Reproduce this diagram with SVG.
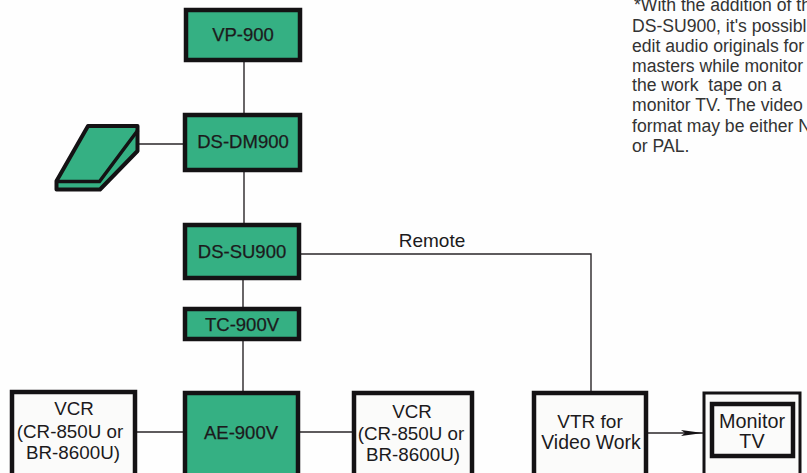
<svg xmlns="http://www.w3.org/2000/svg" width="807" height="473" viewBox="0 0 807 473">
<style>
text{font-family:"Liberation Sans",Arial,sans-serif;fill:#1c1a1c;text-anchor:middle}
.g{fill:#35b083;stroke:#141214;stroke-width:4.5}
.w{fill:#fbfbfa;stroke:#141214;stroke-width:4.5}
.l{font-size:18.5px;stroke:#1c1a1c;stroke-width:.25}
.v{font-size:18.8px}
.n{font-size:17.6px;text-anchor:start;fill:#333}
.c{fill:none;stroke:#2a2628;stroke-width:1.4}
</style>
<defs><marker id="a" markerWidth="24" markerHeight="8" refX="22" refY="4" orient="auto" markerUnits="userSpaceOnUse"><path d="M0 1L22 4L0 7L4 4Z" fill="#141214"/></marker></defs>
<rect width="807" height="473" fill="#fefefe"/>
<g id="connectors">
<path class="c" d="M244 62V113M244 172V223M243 280V307M243 341V391M137 432H183M300 432H352M139 144H183M301 254H591V391"/>
<path class="c" d="M648 433H703" marker-end="url(#a)"/>
</g>
<g id="vp900"><rect class="g" x="186" y="10" width="114" height="50"/><text class="l" x="243" y="41">VP-900</text></g>
<g id="dsdm900"><rect class="g" x="185" y="115" width="115" height="55"/><text class="l" x="243" y="148">DS-DM900</text></g>
<g id="pedal">
<path d="M88 126H137.500V151L100 189.500H56.500V181Z" fill="#35b083" stroke="#141214" stroke-width="4" stroke-linejoin="round"/>
<path d="M56 181.500H99.500L138 130" fill="none" stroke="#141214" stroke-width="3.500"/>
</g>
<g id="dssu900"><rect class="g" x="185" y="225" width="114" height="53"/><text class="l" x="242" y="258">DS-SU900</text></g>
<g id="tc900v"><rect class="g" x="185" y="309" width="114" height="30"/><text class="l" x="242" y="331">TC-900V</text></g>
<g id="ae900v"><rect class="g" x="185" y="393" width="113" height="84"/><text class="l" x="241" y="439">AE-900V</text></g>
<g id="vcr-left"><rect class="w" x="12" y="392" width="123" height="85"/><text class="v" x="74" y="415">VCR</text><text class="v" x="70" y="438">(CR-850U or</text><text class="v" x="73" y="459">BR-8600U)</text></g>
<g id="vcr-right"><rect class="w" x="354" y="393" width="118" height="84"/><text class="v" x="412" y="418">VCR</text><text class="v" x="411" y="440">(CR-850U or</text><text class="v" x="413" y="461">BR-8600U)</text></g>
<g id="vtr"><rect class="w" x="534" y="393" width="112" height="84"/><text x="590" y="428" style="font-size:19px">VTR for</text><text x="591" y="449" style="font-size:19.400px">Video Work</text></g>
<g id="monitor"><rect x="704" y="393" width="96" height="84" fill="#fbfbfa" stroke="#141214" stroke-width="3"/><rect x="712" y="404" width="81" height="52" fill="#fbfbfa" stroke="#141214" stroke-width="4.5"/><text x="752" y="428" style="font-size:19.800px">Monitor</text><text x="752" y="448" style="font-size:19.800px">TV</text></g>
<text x="432" y="247" font-size="19">Remote</text>
<g id="note">
<text class="n" x="634" y="11">*With the addition of th</text>
<text class="n" x="632" y="32">DS-SU900, it's possibl</text>
<text class="n" x="632" y="52">edit audio originals for</text>
<text class="n" x="632" y="72">masters while monitor</text>
<text class="n" x="632" y="91" xml:space="preserve">the work  tape on a</text>
<text class="n" x="632" y="111">monitor TV. The video</text>
<text class="n" x="632" y="132">format may be either N</text>
<text class="n" x="632" y="152">or PAL.</text>
</g>
</svg>
